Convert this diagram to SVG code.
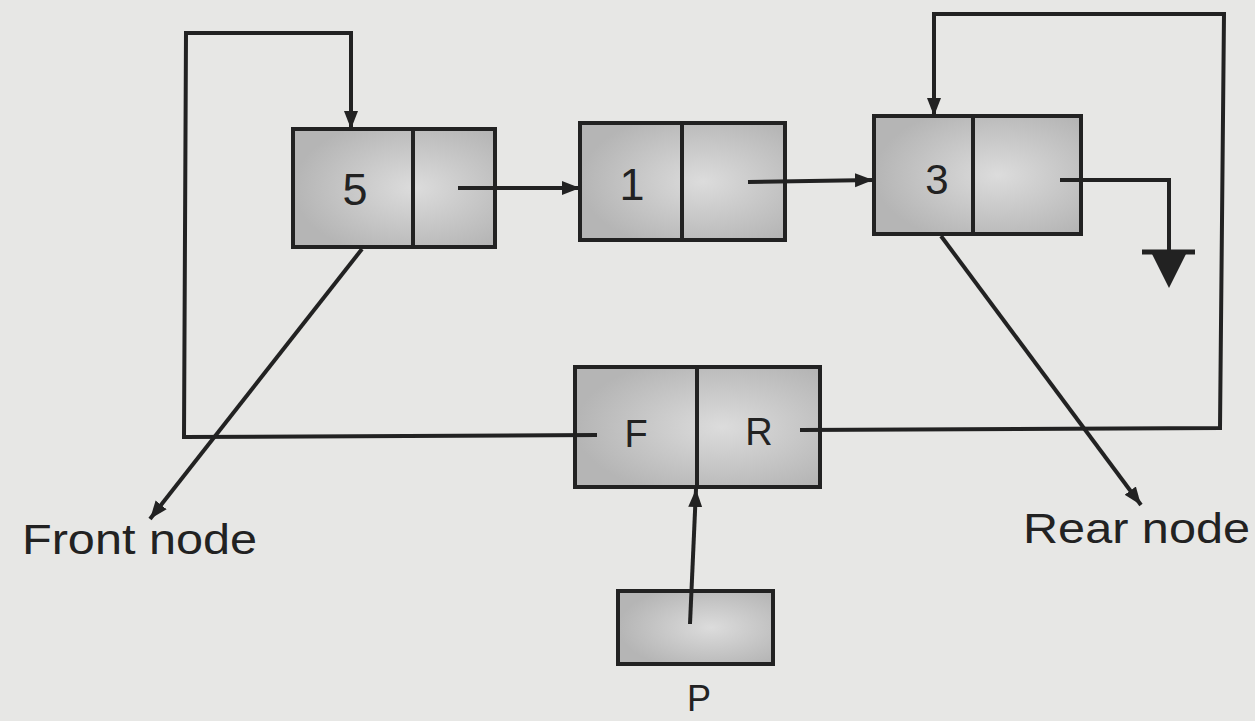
<svg xmlns="http://www.w3.org/2000/svg" width="1255" height="721" viewBox="0 0 1255 721">
<style>
.box{fill:#bfbfbf;stroke:#222;stroke-width:4}
.div{stroke:#222;stroke-width:4}
.ln{fill:none;stroke:#222;stroke-width:4}
.t{font-family:"Liberation Sans",Arial,sans-serif;fill:#222}
</style>
<defs>
<radialGradient id="g" cx="0.6" cy="0.5" r="0.6">
<stop offset="0" stop-color="#dcdcdc"/>
<stop offset="1" stop-color="#b5b5b5"/>
</radialGradient>
<marker id="ah" markerUnits="userSpaceOnUse" markerWidth="20" markerHeight="16" refX="18" refY="8" orient="auto">
<path d="M0,1 L18,8 L0,15 Z" fill="#222"/>
</marker>
</defs>
<rect width="1255" height="721" fill="#e7e7e5"/>

<g id="node5">
<rect class="box" x="293" y="129" width="202" height="118" style="fill:url(#g)"/>
<line class="div" x1="413" y1="129" x2="413" y2="247"/>
<text class="t" x="355" y="205" font-size="45" text-anchor="middle">5</text>
</g>
<g id="node1">
<rect class="box" x="580" y="123" width="205" height="117" style="fill:url(#g)"/>
<line class="div" x1="682" y1="123" x2="682" y2="240"/>
<text class="t" x="632" y="200" font-size="45" text-anchor="middle">1</text>
</g>
<g id="node3">
<rect class="box" x="874" y="116" width="207" height="118" style="fill:url(#g)"/>
<line class="div" x1="973" y1="116" x2="973" y2="234"/>
<text class="t" x="937" y="194" font-size="42" text-anchor="middle">3</text>
</g>
<g id="nodeFR">
<rect class="box" x="575" y="367" width="245" height="120" style="fill:url(#g)"/>
<line class="div" x1="697" y1="366" x2="697" y2="488"/>
<text class="t" x="636" y="447" font-size="38" text-anchor="middle">F</text>
<text class="t" x="759" y="445" font-size="38" text-anchor="middle">R</text>
</g>
<g id="nodeP">
<rect class="box" x="618" y="591" width="155" height="73" style="fill:url(#g)"/>
<text class="t" x="699" y="711" font-size="36" text-anchor="middle">P</text>
</g>
<g id="ground">
<line x1="1142" y1="252" x2="1195" y2="252" stroke="#222" stroke-width="5"/>
<path d="M1151,252 L1187,252 L1169,288 Z" fill="#222"/>
</g>
<g id="labels">
<text class="t" x="22" y="554" font-size="42" textLength="235" lengthAdjust="spacingAndGlyphs">Front  node</text>
<text class="t" x="1023" y="543" font-size="42" textLength="227" lengthAdjust="spacingAndGlyphs">Rear  node</text>
</g>

<g id="connectors">
<line class="ln" x1="458" y1="188" x2="580" y2="188" marker-end="url(#ah)"/>
<line class="ln" x1="748" y1="182" x2="873" y2="180" marker-end="url(#ah)"/>
<polyline class="ln" points="1060,180 1169,180 1169,252"/>
<polyline class="ln" points="597,435 184,437 186,33 351,33 351,129" marker-end="url(#ah)"/>
<polyline class="ln" points="800,430 1220,428 1224,14 934,14 934,116" marker-end="url(#ah)"/>
<line class="ln" x1="362" y1="249" x2="150" y2="519" marker-end="url(#ah)"/>
<line class="ln" x1="941" y1="236" x2="1141" y2="505" marker-end="url(#ah)"/>
<line class="ln" x1="690" y1="624" x2="696" y2="489" marker-end="url(#ah)"/>
</g>
</svg>
